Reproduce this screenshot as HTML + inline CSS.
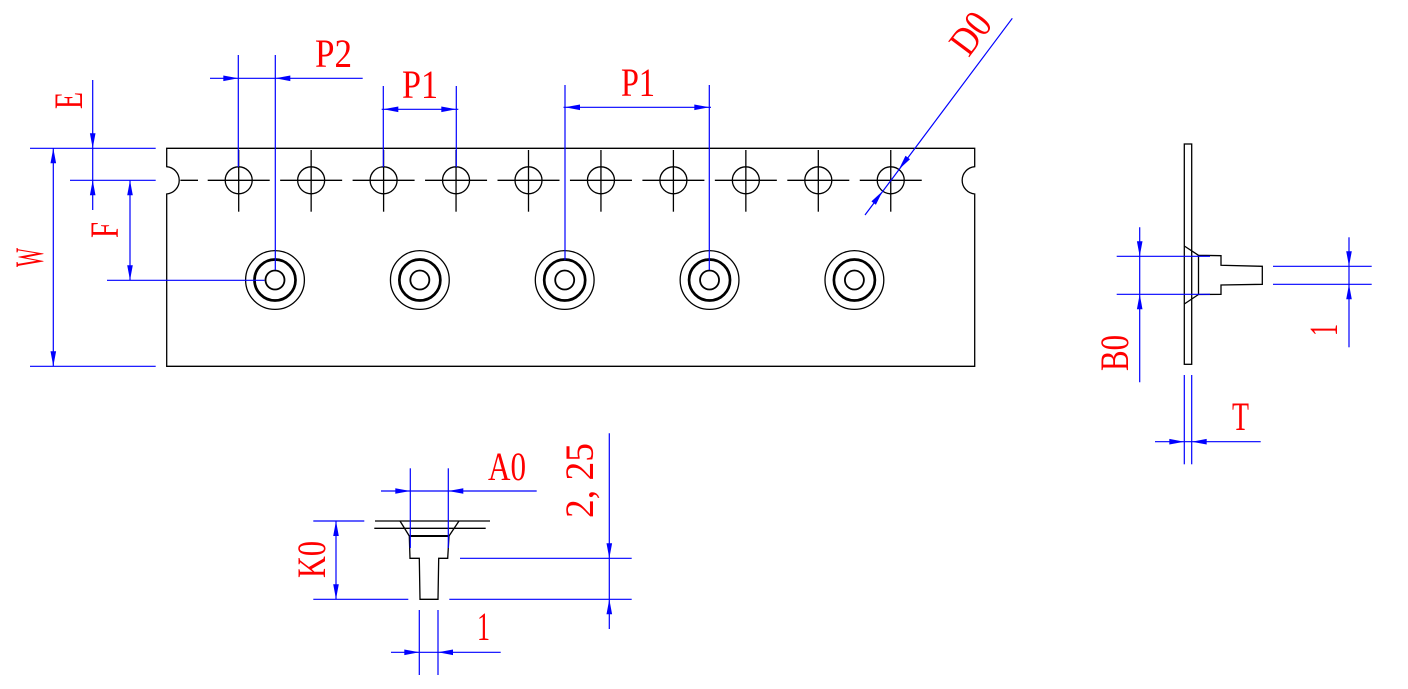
<!DOCTYPE html>
<html><head><meta charset="utf-8"><style>
html,body{margin:0;padding:0;background:#fff;}
svg{display:block;}
text{font-family:"Liberation Serif",serif;font-size:40px;fill:#ff0000;}
</style></head><body>
<svg width="1408" height="689" viewBox="0 0 1408 689" xmlns="http://www.w3.org/2000/svg">
<rect width="1408" height="689" fill="#fff"/>
<!-- Tape outline -->
<path d="M166.7,148.3 H974.7 V166.7 A13.7,13.7 0 0 0 974.7,194 V366.3 H166.7 V194 A13.7,13.7 0 0 0 166.7,166.7 Z" fill="none" stroke="#000" stroke-width="1.3"/>
<g stroke="#000" stroke-width="1.3" fill="none">
<line x1="180.4" y1="180.3" x2="198" y2="180.3"/>
<g id="holes">
<circle cx="238.7" cy="180.3" r="13.5"/><line x1="207.7" y1="180.3" x2="269.7" y2="180.3"/><line x1="238.7" y1="150" x2="238.7" y2="211.7"/>
<circle cx="311.15" cy="180.3" r="13.5"/><line x1="280.15" y1="180.3" x2="342.15" y2="180.3"/><line x1="311.15" y1="150" x2="311.15" y2="211.7"/>
<circle cx="383.6" cy="180.3" r="13.5"/><line x1="352.6" y1="180.3" x2="414.6" y2="180.3"/><line x1="383.6" y1="150" x2="383.6" y2="211.7"/>
<circle cx="456.05" cy="180.3" r="13.5"/><line x1="425.05" y1="180.3" x2="487.05" y2="180.3"/><line x1="456.05" y1="150" x2="456.05" y2="211.7"/>
<circle cx="528.5" cy="180.3" r="13.5"/><line x1="497.5" y1="180.3" x2="559.5" y2="180.3"/><line x1="528.5" y1="150" x2="528.5" y2="211.7"/>
<circle cx="600.95" cy="180.3" r="13.5"/><line x1="569.95" y1="180.3" x2="631.95" y2="180.3"/><line x1="600.95" y1="150" x2="600.95" y2="211.7"/>
<circle cx="673.4" cy="180.3" r="13.5"/><line x1="642.4" y1="180.3" x2="704.4" y2="180.3"/><line x1="673.4" y1="150" x2="673.4" y2="211.7"/>
<circle cx="745.85" cy="180.3" r="13.5"/><line x1="714.85" y1="180.3" x2="776.85" y2="180.3"/><line x1="745.85" y1="150" x2="745.85" y2="211.7"/>
<circle cx="818.3" cy="180.3" r="13.5"/><line x1="787.3" y1="180.3" x2="849.3" y2="180.3"/><line x1="818.3" y1="150" x2="818.3" y2="211.7"/>
<circle cx="890.75" cy="180.3" r="13.5"/><line x1="859.75" y1="180.3" x2="921.75" y2="180.3"/><line x1="890.75" y1="150" x2="890.75" y2="211.7"/>
</g>
</g>
<!-- rings -->
<g fill="none" stroke="#000">
<g transform="translate(275,280)"><circle r="29.4" stroke-width="1.3"/><circle r="20.5" stroke-width="2.7"/><circle r="9.5" stroke-width="1.8"/></g>
<g transform="translate(419.85,280)"><circle r="29.4" stroke-width="1.3"/><circle r="20.5" stroke-width="2.7"/><circle r="9.5" stroke-width="1.8"/></g>
<g transform="translate(564.7,280)"><circle r="29.4" stroke-width="1.3"/><circle r="20.5" stroke-width="2.7"/><circle r="9.5" stroke-width="1.8"/></g>
<g transform="translate(709.55,280)"><circle r="29.4" stroke-width="1.3"/><circle r="20.5" stroke-width="2.7"/><circle r="9.5" stroke-width="1.8"/></g>
<g transform="translate(854.4,280)"><circle r="29.4" stroke-width="1.3"/><circle r="20.5" stroke-width="2.7"/><circle r="9.5" stroke-width="1.8"/></g>
</g>

<!-- Side view -->
<g fill="none" stroke="#000" stroke-width="1.3">
<rect x="1184.3" y="144" width="7.4" height="220.3"/>
<polyline points="1184.3,246 1198.5,255.3 1221,255.7 1221,265.3 1262.3,266.3 1262.3,284.3 1221,285 1221,294.3 1198.5,294.5 1184.3,304"/>
<line x1="1198.5" y1="255.3" x2="1198.5" y2="294.5"/>
</g>

<!-- Bottom view -->
<g fill="none" stroke="#000" stroke-width="1.3">
<line x1="375" y1="521" x2="490" y2="521"/>
<line x1="374.3" y1="528.3" x2="485.7" y2="528.3"/>
<polyline points="400,521 409.3,536 410,558.3 419.3,558.3 420,599.3 438,599.3 438.7,558.3 447.7,558.3 449,536 459,521"/>
<line x1="409.3" y1="536" x2="449" y2="536" stroke-width="2"/>
</g>

<!-- Blue dimension lines -->
<g stroke="#0000ff" stroke-width="1.2" fill="none">
<!-- W -->
<line x1="30" y1="148.3" x2="155.7" y2="148.3"/>
<line x1="30" y1="366.3" x2="155.7" y2="366.3"/>
<line x1="53.3" y1="148.3" x2="53.3" y2="366.3"/>
<!-- E -->
<line x1="92.7" y1="80" x2="92.7" y2="210"/>
<line x1="70" y1="180.3" x2="155.7" y2="180.3"/>
<!-- F -->
<line x1="130" y1="180.3" x2="130" y2="280.3"/>
<line x1="107" y1="280.3" x2="264.5" y2="280.3"/>
<!-- P2 -->
<line x1="210" y1="78.3" x2="362.7" y2="78.3"/>
<line x1="238.3" y1="55" x2="238.3" y2="167"/>
<line x1="275.3" y1="55" x2="275.3" y2="270"/>
<!-- P1 a -->
<line x1="381.7" y1="109.3" x2="458.3" y2="109.3"/>
<line x1="383.3" y1="86" x2="383.3" y2="167"/>
<line x1="456.3" y1="86" x2="456.3" y2="167"/>
<!-- P1 b -->
<line x1="563.5" y1="107.3" x2="711" y2="107.3"/>
<line x1="565" y1="85" x2="565" y2="260"/>
<line x1="709.3" y1="85" x2="709.3" y2="270"/>
<!-- D0 -->
<line x1="1012.3" y1="18.3" x2="865" y2="215"/>
<!-- B0 -->
<line x1="1139.7" y1="227.3" x2="1139.7" y2="382.3"/>
<line x1="1116.7" y1="256.3" x2="1210" y2="256.3"/>
<line x1="1116.7" y1="294.3" x2="1210" y2="294.3"/>
<!-- 1 right -->
<line x1="1349" y1="237.3" x2="1349" y2="347.3"/>
<line x1="1273" y1="266.3" x2="1371.7" y2="266.3"/>
<line x1="1273" y1="284.3" x2="1371.7" y2="284.3"/>
<!-- T -->
<line x1="1155" y1="441.7" x2="1260.7" y2="441.7"/>
<line x1="1184.3" y1="375" x2="1184.3" y2="464.3"/>
<line x1="1191.7" y1="375" x2="1191.7" y2="464.3"/>
<!-- A0 -->
<line x1="381" y1="491" x2="536.7" y2="491"/>
<line x1="410.3" y1="468.3" x2="410.3" y2="548"/>
<line x1="448.3" y1="468.3" x2="448.3" y2="548"/>
<!-- K0 -->
<line x1="336" y1="521" x2="336" y2="599.3"/>
<line x1="313.3" y1="521" x2="364.3" y2="521"/>
<line x1="313.3" y1="599.3" x2="408.3" y2="599.3"/>
<!-- 1 bottom -->
<line x1="391" y1="652.3" x2="500.7" y2="652.3"/>
<line x1="419.3" y1="610" x2="419.3" y2="675"/>
<line x1="438" y1="610" x2="438" y2="675"/>
<!-- 2,25 -->
<line x1="609.3" y1="433.3" x2="609.3" y2="629"/>
<line x1="460" y1="558.3" x2="631.7" y2="558.3"/>
<line x1="449.3" y1="599.3" x2="631.7" y2="599.3"/>
</g>

<!-- Arrowheads -->
<g fill="#0000ff" stroke="none">
<polygon points="53.3,148.3 50.5,163.3 56.1,163.3"/>
<polygon points="53.3,366.3 50.5,351.3 56.1,351.3"/>
<polygon points="92.7,148.3 89.9,133.3 95.5,133.3"/>
<polygon points="92.7,180.3 89.9,195.3 95.5,195.3"/>
<polygon points="130,180.3 127.2,195.3 132.8,195.3"/>
<polygon points="130,280.3 127.2,265.3 132.8,265.3"/>
<polygon points="238.3,78.3 223.3,75.5 223.3,81.1"/>
<polygon points="275.3,78.3 290.3,75.5 290.3,81.1"/>
<polygon points="383.3,109.3 398.3,106.5 398.3,112.1"/>
<polygon points="456.3,109.3 441.3,106.5 441.3,112.1"/>
<polygon points="565,107.3 580,104.5 580,110.1"/>
<polygon points="709.3,107.3 694.3,104.5 694.3,110.1"/>
<polygon points="898.8,169.5 910,159.2 905.5,155.8"/>
<polygon points="882.6,191.1 875.9,204.8 871.4,201.4"/>
<polygon points="1139.7,256.3 1136.9,241.3 1142.5,241.3"/>
<polygon points="1139.7,294.3 1136.9,309.3 1142.5,309.3"/>
<polygon points="1349,266.3 1346.2,251.3 1351.8,251.3"/>
<polygon points="1349,284.3 1346.2,299.3 1351.8,299.3"/>
<polygon points="1184.3,441.7 1169.3,438.9 1169.3,444.5"/>
<polygon points="1191.7,441.7 1206.7,438.9 1206.7,444.5"/>
<polygon points="410.3,491 395.3,488.2 395.3,493.8"/>
<polygon points="448.3,491 463.3,488.2 463.3,493.8"/>
<polygon points="336,521 333.2,536 338.8,536"/>
<polygon points="336,599.3 333.2,584.3 338.8,584.3"/>
<polygon points="419.3,652.3 404.3,649.5 404.3,655.1"/>
<polygon points="438,652.3 453,649.5 453,655.1"/>
<polygon points="609.3,558.3 606.5,543.3 612.1,543.3"/>
<polygon points="609.3,599.3 606.5,614.3 612.1,614.3"/>
</g>

<!-- Labels -->
<text x="315" y="67" textLength="37" lengthAdjust="spacingAndGlyphs">P2</text>
<text x="402" y="98" textLength="36" lengthAdjust="spacingAndGlyphs">P1</text>
<text x="621" y="96" textLength="34" lengthAdjust="spacingAndGlyphs">P1</text>
<text x="488" y="480" textLength="38" lengthAdjust="spacingAndGlyphs">A0</text>
<text x="477" y="640" textLength="13" lengthAdjust="spacingAndGlyphs">1</text>
<text x="1232" y="430" textLength="17" lengthAdjust="spacingAndGlyphs">T</text>
<text transform="translate(43,267) rotate(-90)" textLength="19" lengthAdjust="spacingAndGlyphs">W</text>
<text transform="translate(82,109) rotate(-90)" textLength="17" lengthAdjust="spacingAndGlyphs">E</text>
<text transform="translate(118,238) rotate(-90)" textLength="16" lengthAdjust="spacingAndGlyphs">F</text>
<text transform="translate(1128,371) rotate(-90)" textLength="36" lengthAdjust="spacingAndGlyphs">B0</text>
<text transform="translate(1337,336) rotate(-90)" textLength="12" lengthAdjust="spacingAndGlyphs">1</text>
<text transform="translate(325,578) rotate(-90)" textLength="37" lengthAdjust="spacingAndGlyphs">K0</text>
<text transform="translate(593,518) rotate(-90)" textLength="75" lengthAdjust="spacingAndGlyphs">2, 25</text>
<text transform="translate(968.6,58) rotate(-53.3)" textLength="42" lengthAdjust="spacingAndGlyphs">D0</text>
</svg>
</body></html>
